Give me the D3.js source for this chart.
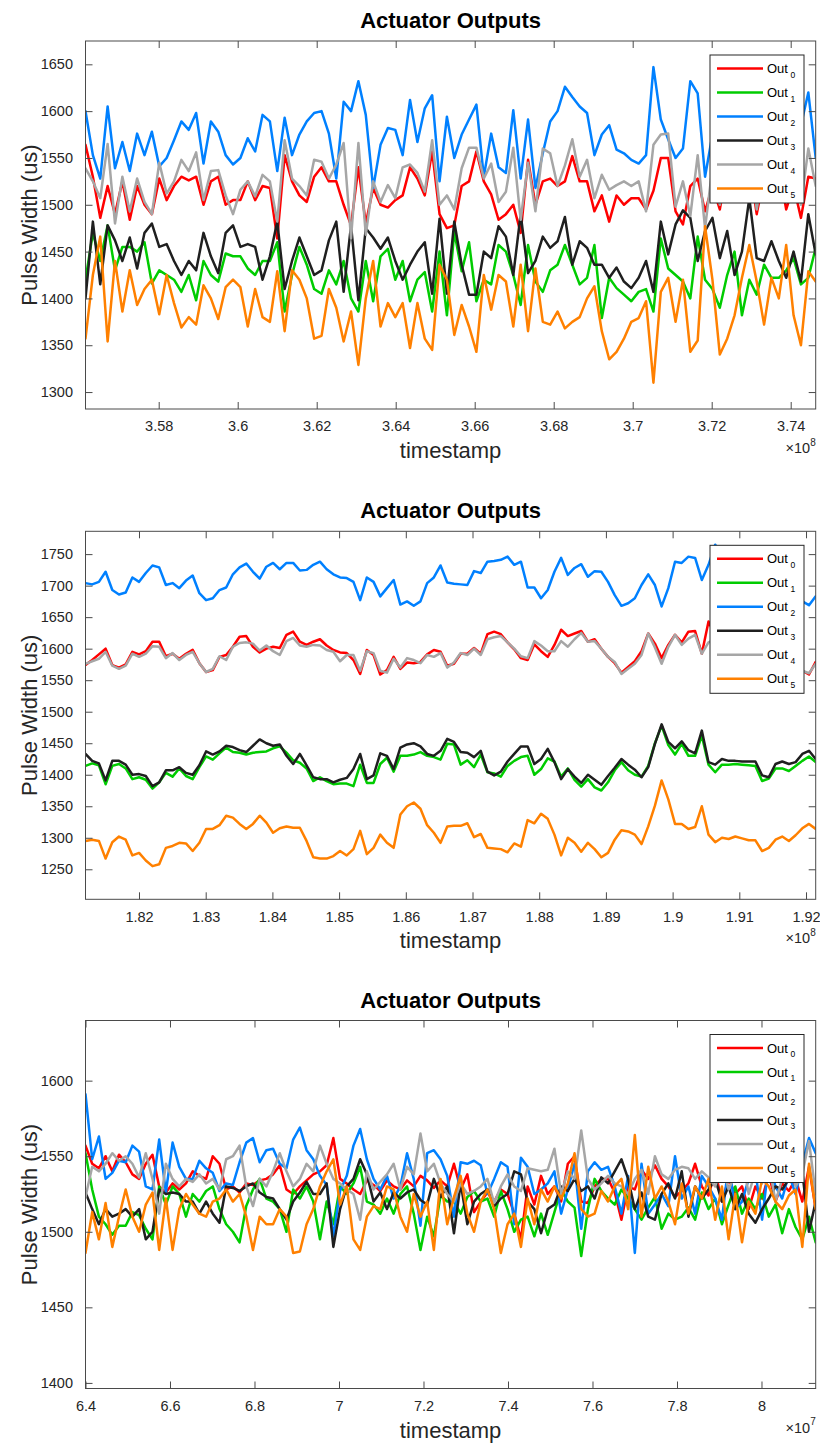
<!DOCTYPE html>
<html>
<head>
<meta charset="utf-8">
<script src="https://cdn.jsdelivr.net/npm/d3@7"></script>
<style>
  body { margin: 0; background: #fff; }
  svg { display: block; font-family: "Liberation Sans", Arial, Helvetica, sans-serif; }
</style>
</head>
<body>
<svg id="chart" width="820" height="1443"></svg>
<script>
// ---- series labels and colours ----
const seriesNames = ["0", "1", "2", "3", "4", "5"];
const seriesColors = ["#ff0000", "#00cc00", "#0080ff", "#1f1f1f", "#a6a6a6", "#ff8000"];

// ---- panel 1 (timestamp x 1e8) ----
const tRange1 = [3.56147, 3.74633];
const yRange1 = [1281.9, 1674.9];
const xTicks1 = [3.58, 3.60, 3.62, 3.64, 3.66, 3.68, 3.70, 3.72, 3.74];
const yTicks1 = [1300, 1350, 1400, 1450, 1500, 1550, 1600, 1650];
const p1Out0 = [1564,1530,1486,1520,1490,1525,1484,1520,1500,1490,1528,1505,1520,1530,1526,1530,1500,1525,1530,1500,1505,1505,1525,1505,1520,1518,1464,1553,1525,1510,1503,1530,1540,1525,1525,1500,1478,1540,1480,1518,1500,1497,1505,1510,1540,1528,1510,1557,1490,1475,
  1478,1520,1525,1557,1525,1511,1484,1490,1500,1470,1548,1500,1525,1528,1520,1525,1552,1525,1525,1493,1510,1482,1510,1500,1507,1507,1495,1515,1550,1550,1493,1479,1520,1528,1493,1520,1495,1540,1505,1520,1545,1490,1530,1505,1540,1495,1520,1486,1530,1528];
const p1Out1 = [1420,1470,1440,1478,1430,1455,1455,1450,1460,1416,1430,1425,1420,1407,1425,1398,1440,1425,1418,1448,1445,1445,1432,1425,1440,1440,1460,1386,1425,1455,1436,1410,1405,1430,1415,1440,1400,1386,1440,1397,1445,1453,1420,1440,1397,1420,1428,1386,1450,1382,
  1471,1429,1460,1397,1420,1415,1457,1450,1425,1393,1457,1418,1407,1430,1436,1457,1436,1415,1422,1457,1379,1422,1411,1404,1397,1407,1410,1386,1464,1432,1425,1418,1400,1466,1420,1410,1390,1425,1450,1382,1420,1404,1436,1422,1422,1430,1443,1415,1422,1454];
const p1Out2 = [1600,1553,1528,1605,1539,1567,1536,1576,1553,1578,1541,1550,1569,1589,1580,1598,1544,1589,1578,1553,1543,1550,1571,1557,1596,1589,1536,1593,1553,1575,1589,1598,1600,1576,1528,1610,1600,1632,1596,1518,1564,1582,1580,1553,1612,1567,1603,1617,1525,1594,
  1550,1575,1591,1607,1530,1576,1540,1534,1601,1528,1591,1518,1555,1589,1600,1626,1615,1605,1598,1553,1575,1585,1559,1555,1548,1544,1553,1647,1591,1570,1550,1560,1632,1619,1530,1575,1590,1560,1600,1520,1580,1610,1560,1595,1545,1600,1570,1585,1620,1550];
const p1Out3 = [1400,1482,1415,1478,1462,1440,1465,1432,1470,1480,1455,1458,1440,1425,1440,1430,1470,1445,1427,1470,1478,1455,1458,1455,1420,1445,1482,1410,1440,1465,1445,1425,1430,1462,1482,1407,1478,1398,1475,1465,1453,1465,1440,1420,1436,1450,1460,1405,1485,1405,
  1482,1436,1404,1404,1450,1443,1477,1466,1425,1490,1427,1440,1466,1454,1461,1487,1436,1461,1454,1436,1436,1422,1433,1418,1411,1422,1440,1407,1482,1447,1479,1494,1486,1440,1472,1486,1443,1472,1425,1450,1507,1443,1440,1461,1440,1422,1450,1418,1490,1447];
const p1Out4 = [1539,1525,1507,1565,1480,1530,1493,1528,1503,1490,1545,1512,1525,1548,1536,1556,1505,1536,1537,1510,1490,1516,1525,1509,1532,1525,1482,1569,1528,1520,1510,1548,1546,1528,1543,1566,1464,1566,1468,1525,1503,1521,1507,1540,1543,1534,1514,1569,1500,1510,
  1495,1539,1561,1561,1528,1544,1503,1514,1561,1484,1545,1493,1560,1555,1520,1542,1570,1530,1548,1507,1532,1516,1521,1525,1520,1525,1493,1564,1575,1576,1498,1525,1488,1553,1475,1540,1500,1555,1510,1530,1560,1495,1545,1520,1550,1505,1535,1500,1560,1520];
const p1Out5 = [1357,1425,1466,1354,1440,1386,1430,1393,1410,1420,1383,1425,1395,1369,1380,1372,1414,1400,1378,1412,1420,1412,1370,1410,1380,1375,1429,1365,1430,1420,1400,1357,1360,1410,1390,1354,1386,1329,1400,1440,1370,1395,1380,1395,1347,1395,1357,1345,1436,1420,
  1361,1393,1370,1343,1425,1388,1425,1418,1370,1436,1365,1432,1375,1372,1386,1368,1375,1380,1400,1413,1365,1335,1343,1357,1375,1379,1397,1310,1407,1422,1375,1420,1343,1355,1477,1420,1340,1357,1382,1422,1457,1418,1372,1422,1400,1457,1382,1350,1429,1418];

// ---- panel 2 (timestamp x 1e8) ----
const tRange2 = [1.81198, 1.92145];
const yRange2 = [1202.4, 1786.2];
const xTicks2 = [1.82, 1.83, 1.84, 1.85, 1.86, 1.87, 1.88, 1.89, 1.90, 1.91, 1.92];
const yTicks2 = [1250, 1300, 1350, 1400, 1450, 1500, 1550, 1600, 1650, 1700, 1750];
const p2Out0 = [1574,1582,1591,1600,1574,1570,1575,1595,1591,1596,1611,1611,1588,1592,1584,1592,1598,1577,1563,1566,1587,1590,1603,1619,1620,1603,1594,1600,1603,1601,1622,1627,1611,1606,1611,1615,1605,1598,1594,1593,1582,1560,1598,1590,1559,1566,1587,1568,1578,1577,1579,1591,1598,1595,1573,
  1576,1592,1592,1601,1592,1623,1627,1623,1610,1599,1585,1582,1607,1596,1587,1606,1630,1620,1624,1628,1611,1615,1600,1587,1577,1562,1571,1580,1596,1624,1608,1585,1606,1622,1610,1627,1628,1592,1643,1620,1610,1600,1595,1605,1590,1585,1600,1590,1575,1580,1570,1560,1565,1559,1579];
const p2Out1 = [1414,1418,1415,1385,1414,1417,1410,1393,1396,1392,1378,1388,1403,1397,1410,1398,1393,1412,1429,1424,1434,1443,1436,1435,1432,1435,1436,1437,1442,1445,1435,1423,1419,1410,1390,1396,1390,1385,1386,1386,1382,1416,1387,1387,1417,1427,1405,1430,1430,1432,1436,1430,1428,1424,1449,
  1448,1416,1423,1412,1432,1404,1402,1397,1414,1422,1428,1430,1400,1409,1426,1421,1397,1410,1392,1381,1393,1380,1375,1388,1407,1420,1407,1400,1397,1414,1450,1478,1447,1432,1449,1430,1430,1462,1416,1404,1416,1416,1417,1416,1415,1414,1390,1394,1410,1410,1406,1414,1422,1429,1420];
const p2Out2 = [1704,1702,1706,1722,1693,1686,1689,1713,1706,1720,1732,1729,1701,1704,1696,1708,1716,1688,1677,1680,1693,1697,1718,1729,1735,1722,1711,1730,1736,1726,1736,1736,1724,1725,1733,1738,1726,1718,1713,1712,1706,1677,1713,1706,1683,1696,1709,1670,1675,1668,1675,1704,1713,1732,1705,
  1703,1702,1701,1723,1720,1738,1739,1741,1746,1733,1738,1697,1697,1680,1693,1722,1744,1717,1728,1734,1714,1723,1722,1706,1685,1668,1672,1680,1701,1718,1701,1667,1696,1738,1736,1746,1744,1709,1733,1765,1745,1730,1720,1710,1700,1715,1705,1690,1700,1685,1680,1690,1675,1669,1683];
const p2Out3 = [1433,1422,1418,1391,1422,1422,1416,1400,1401,1398,1382,1388,1407,1407,1412,1403,1400,1415,1437,1432,1437,1446,1444,1439,1436,1446,1456,1450,1446,1448,1430,1417,1433,1415,1396,1393,1393,1388,1392,1395,1409,1433,1393,1399,1434,1430,1409,1443,1448,1450,1445,1433,1430,1438,1457,
  1452,1436,1435,1428,1438,1405,1399,1405,1421,1433,1445,1445,1417,1425,1441,1420,1393,1409,1397,1387,1400,1392,1384,1398,1411,1425,1416,1408,1396,1412,1449,1480,1452,1442,1453,1439,1434,1470,1420,1416,1425,1422,1422,1421,1421,1421,1399,1396,1417,1421,1417,1420,1433,1438,1425];
const p2Out4 = [1576,1580,1584,1595,1573,1568,1573,1592,1587,1592,1604,1603,1585,1593,1582,1590,1595,1577,1563,1568,1588,1582,1603,1609,1610,1608,1597,1605,1596,1590,1612,1617,1605,1603,1606,1605,1598,1595,1580,1590,1590,1565,1596,1593,1565,1562,1584,1570,1585,1582,1577,1590,1587,1593,1570,
  1578,1593,1590,1600,1590,1615,1618,1620,1610,1600,1588,1585,1612,1605,1596,1596,1612,1603,1615,1625,1611,1612,1600,1587,1579,1560,1568,1576,1590,1624,1602,1576,1603,1622,1606,1616,1622,1592,1610,1615,1605,1598,1590,1600,1588,1583,1598,1588,1578,1578,1568,1562,1565,1561,1576];
const p2Out5 = [1295,1297,1295,1267,1293,1302,1297,1272,1276,1264,1255,1258,1284,1287,1292,1291,1279,1292,1314,1314,1320,1335,1332,1322,1314,1322,1335,1324,1308,1315,1318,1316,1316,1295,1269,1267,1267,1271,1279,1272,1282,1311,1274,1284,1305,1292,1284,1337,1350,1356,1346,1320,1308,1292,1318,
  1319,1319,1323,1301,1306,1284,1283,1282,1277,1291,1286,1328,1323,1338,1330,1305,1272,1300,1292,1278,1292,1282,1269,1276,1297,1312,1310,1305,1290,1318,1351,1391,1361,1322,1322,1314,1317,1350,1305,1293,1300,1298,1302,1299,1296,1296,1279,1284,1297,1302,1295,1304,1315,1322,1314];

// ---- panel 3 (timestamp x 1e7) ----
const tRange3 = [6.4, 8.1283];
const yRange3 = [1396.3, 1639.8];
const xTicks3 = [6.4, 6.6, 6.8, 7.0, 7.2, 7.4, 7.6, 7.8, 8.0];
const yTicks3 = [1400, 1450, 1500, 1550, 1600];
const p3Out0 = [1557,1545,1542,1550,1540,1551,1546,1538,1535,1545,1551,1530,1526,1532,1528,1532,1540,1537,1535,1550,1545,1528,1530,1526,1532,1531,1534,1535,1538,1544,1528,1525,1530,1534,1538,1540,1544,1562,1535,1532,1528,1525,1534,1531,1527,1534,1530,1528,1534,1530,1537,1534,1529,1534,1530,
  1545,1528,1538,1513,1520,1526,1520,1528,1525,1512,1495,1530,1518,1537,1525,1530,1520,1545,1550,1520,1519,1530,1535,1535,1526,1508,1530,1528,1541,1535,1544,1535,1530,1523,1527,1532,1545,1530,1524,1540,1520,1535,1525,1530,1515,1530,1522,1538,1520,1532,1527,1535,1520,1543,1515];
const p3Out1 = [1552,1528,1510,1505,1498,1504,1504,1513,1511,1502,1495,1530,1518,1530,1525,1510,1525,1520,1527,1530,1515,1505,1500,1493,1517,1528,1535,1522,1520,1515,1500,1528,1522,1530,1520,1495,1520,1505,1530,1525,1532,1543,1520,1518,1512,1522,1512,1525,1530,1512,1488,1510,1497,1524,1520,
  1520,1512,1523,1527,1520,1522,1510,1527,1515,1500,1508,1510,1497,1512,1498,1513,1528,1520,1516,1484,1515,1535,1527,1522,1518,1528,1522,1515,1508,1516,1523,1502,1512,1508,1510,1516,1508,1526,1515,1522,1505,1518,1530,1512,1522,1515,1525,1510,1518,1499,1515,1503,1495,1510,1493];
const p3Out2 = [1591,1548,1563,1535,1539,1547,1546,1557,1553,1530,1528,1561,1526,1559,1543,1535,1535,1547,1542,1539,1527,1532,1531,1546,1559,1562,1546,1554,1555,1545,1542,1561,1569,1554,1548,1537,1531,1497,1527,1537,1557,1568,1548,1535,1528,1537,1522,1530,1552,1535,1504,1552,1554,1548,1537,
  1510,1546,1545,1547,1544,1525,1535,1546,1543,1505,1549,1543,1525,1528,1532,1540,1512,1528,1545,1502,1540,1546,1541,1543,1530,1512,1537,1486,1545,1512,1518,1525,1517,1550,1522,1530,1512,1537,1530,1522,1508,1545,1515,1520,1535,1540,1508,1545,1530,1522,1538,1525,1545,1562,1552];
const p3Out3 = [1526,1515,1505,1515,1510,1512,1515,1510,1515,1495,1500,1528,1525,1526,1525,1520,1520,1512,1520,1512,1506,1530,1529,1527,1530,1532,1526,1523,1522,1515,1508,1520,1526,1533,1525,1525,1532,1490,1515,1530,1535,1548,1538,1520,1526,1515,1526,1522,1526,1528,1521,1518,1535,1523,1530,
  1499,1532,1505,1520,1525,1528,1517,1522,1525,1540,1538,1520,1515,1499,1515,1518,1530,1527,1535,1527,1530,1522,1536,1532,1540,1548,1535,1515,1526,1510,1508,1525,1532,1522,1540,1510,1530,1522,1528,1535,1520,1530,1515,1525,1512,1506,1515,1522,1530,1528,1535,1538,1540,1500,1520];
const p3Out4 = [1523,1543,1540,1545,1552,1547,1550,1545,1536,1552,1535,1512,1545,1535,1530,1535,1533,1538,1532,1535,1528,1548,1550,1557,1530,1517,1535,1530,1540,1552,1540,1530,1535,1545,1540,1557,1545,1535,1532,1528,1525,1508,1540,1528,1533,1538,1545,1528,1543,1538,1565,1540,1545,1532,1525,
  1520,1532,1525,1527,1530,1535,1519,1530,1538,1530,1527,1542,1541,1540,1541,1555,1525,1540,1535,1567,1535,1528,1532,1537,1532,1530,1525,1535,1541,1525,1550,1538,1535,1541,1543,1542,1535,1540,1536,1530,1545,1528,1538,1550,1525,1540,1532,1545,1520,1535,1548,1530,1538,1560,1525];
const p3Out5 = [1486,1513,1495,1519,1490,1510,1528,1510,1500,1518,1526,1488,1522,1488,1515,1525,1518,1512,1510,1520,1522,1528,1520,1525,1510,1488,1510,1505,1505,1515,1510,1486,1487,1505,1515,1530,1540,1548,1518,1530,1495,1488,1510,1517,1515,1530,1528,1510,1500,1525,1510,1520,1488,1535,1505,
  1523,1537,1512,1500,1520,1528,1515,1486,1505,1512,1490,1522,1505,1528,1520,1530,1522,1532,1552,1515,1510,1512,1527,1520,1530,1535,1515,1564,1510,1543,1522,1530,1520,1505,1532,1512,1530,1522,1535,1508,1530,1495,1525,1493,1520,1512,1535,1530,1520,1515,1524,1528,1490,1545,1515];

const xExponents = ["8", "8", "7"];

// ---- layout ----
const W = 820, H = 1443;
const plotLeft = 85.5, plotRight = 815.7, plotH = 368;
const axisColor = "#4a4a4a", textColor = "#262626";

const panels = [
  { top: 41,    series: [p1Out0, p1Out1, p1Out2, p1Out3, p1Out4, p1Out5], tRange: tRange1, yRange: yRange1, xTicks: xTicks1, yTicks: yTicks1, exp: xExponents[0] },
  { top: 531.3, series: [p2Out0, p2Out1, p2Out2, p2Out3, p2Out4, p2Out5], tRange: tRange2, yRange: yRange2, xTicks: xTicks2, yTicks: yTicks2, exp: xExponents[1] },
  { top: 1020.5, series: [p3Out0, p3Out1, p3Out2, p3Out3, p3Out4, p3Out5], tRange: tRange3, yRange: yRange3, xTicks: xTicks3, yTicks: yTicks3, exp: xExponents[2] }
];

const svg = d3.select("#chart");
svg.append("rect").attr("width", W).attr("height", H).attr("fill", "#fff");

function styleAxis(sel, fontSize) {
  sel.select(".domain").remove();
  sel.selectAll(".tick line").attr("stroke", axisColor).attr("stroke-width", 1);
  sel.selectAll(".tick text")
    .attr("fill", textColor)
    .attr("font-size", fontSize)
    .attr("font-family", "'Liberation Sans', Arial, Helvetica, sans-serif");
}

panels.forEach((p, pi) => {
  const g = svg.append("g").attr("transform", `translate(0,${p.top})`);
  const x = d3.scaleLinear().domain(p.tRange).range([plotLeft, plotRight]);
  const y = d3.scaleLinear().domain(p.yRange).range([plotH, 0]);

  const clipId = "plot-clip-" + pi;
  g.append("clipPath").attr("id", clipId)
    .append("rect").attr("x", plotLeft).attr("y", 0)
    .attr("width", plotRight - plotLeft).attr("height", plotH);

  // data lines, Out0 drawn first, Out5 last
  const lines = g.append("g").attr("clip-path", `url(#${clipId})`);
  p.series.forEach((vals, si) => {
    const n = vals.length;
    const tAt = i => p.tRange[0] + (p.tRange[1] - p.tRange[0]) * i / (n - 1);
    const line = d3.line().x((d, i) => x(tAt(i))).y(d => y(d));
    lines.append("path")
      .attr("d", line(vals))
      .attr("fill", "none")
      .attr("stroke", seriesColors[si])
      .attr("stroke-width", 2.5)
      .attr("stroke-linejoin", "round")
      .attr("stroke-linecap", "round");
  });

  // axes with inward ticks on all four sides
  g.append("g").attr("transform", `translate(0,${plotH})`)
    .call(d3.axisBottom(x).tickValues(p.xTicks).tickFormat(String).tickSizeInner(-7).tickSizeOuter(0).tickPadding(12))
    .call(s => styleAxis(s, 14.5));
  g.append("g")
    .call(d3.axisTop(x).tickValues(p.xTicks).tickFormat("").tickSizeInner(-7).tickSizeOuter(0))
    .call(s => styleAxis(s, 14.5));
  g.append("g").attr("transform", `translate(${plotLeft},0)`)
    .call(d3.axisLeft(y).tickValues(p.yTicks).tickFormat(String).tickSizeInner(-7).tickSizeOuter(0).tickPadding(12.5))
    .call(s => styleAxis(s, 14.5));
  g.append("g").attr("transform", `translate(${plotRight},0)`)
    .call(d3.axisRight(y).tickValues(p.yTicks).tickFormat("").tickSizeInner(-7).tickSizeOuter(0))
    .call(s => styleAxis(s, 14.5));

  g.append("rect")
    .attr("x", plotLeft).attr("y", 0)
    .attr("width", plotRight - plotLeft).attr("height", plotH)
    .attr("fill", "none").attr("stroke", axisColor).attr("stroke-width", 1);

  const midX = (plotLeft + plotRight) / 2;

  // title
  g.append("text")
    .attr("x", midX).attr("y", -13)
    .attr("text-anchor", "middle")
    .attr("font-size", 22).attr("font-weight", "bold").attr("fill", "#000")
    .text("Actuator Outputs");

  // x label
  g.append("text")
    .attr("x", midX).attr("y", plotH + 49)
    .attr("text-anchor", "middle")
    .attr("font-size", 22).attr("fill", textColor)
    .text("timestamp");

  // exponent of the x axis
  const ex = g.append("text")
    .attr("x", plotRight).attr("y", plotH + 44)
    .attr("text-anchor", "end")
    .attr("font-size", 14.5).attr("fill", textColor);
  ex.append("tspan").text("\u00d710");
  ex.append("tspan").attr("font-size", 10).attr("dy", -7.5).text(p.exp);

  // y label
  g.append("text")
    .attr("transform", `translate(37,${plotH / 2}) rotate(-90)`)
    .attr("text-anchor", "middle")
    .attr("font-size", 22).attr("fill", textColor)
    .text("Pulse Width (us)");

  // legend
  const lg = g.append("g").attr("transform", "translate(710,14)");
  lg.append("rect").attr("width", 94).attr("height", 148)
    .attr("fill", "#fff").attr("stroke", "#262626").attr("stroke-width", 1);
  seriesNames.forEach((nm, si) => {
    const cy = 13.5 + 24 * si;
    lg.append("line").attr("x1", 7).attr("x2", 53).attr("y1", cy).attr("y2", cy)
      .attr("stroke", seriesColors[si]).attr("stroke-width", 2.5);
    const t = lg.append("text").attr("x", 57).attr("y", cy + 4.6)
      .attr("font-size", 13).attr("fill", "#000");
    t.append("tspan").text("Out");
    t.append("tspan").attr("dx", 2.5).attr("dy", 4.6).attr("font-size", 8.5).text(nm);
  });
});
</script>
</body>
</html>
